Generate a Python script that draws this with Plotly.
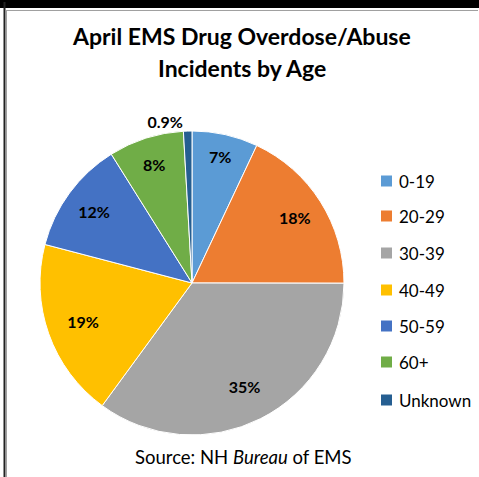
import plotly.graph_objects as go

W, H = 479, 477

categories = ["0-19", "20-29", "30-39", "40-49", "50-59", "60+", "Unknown"]
values = [7, 18, 35, 19, 12, 8, 0.9]
value_labels = ["7%", "18%", "35%", "19%", "12%", "8%", "0.9%"]
colors = ["#5B9BD5", "#ED7D31", "#A5A5A5", "#FFC000", "#4472C4", "#70AD47", "#255E91"]

title_lines = ["April EMS Drug Overdose/Abuse", "Incidents by Age"]
source_text = "Source: NH <i>Bureau</i> of EMS"

# style: hole of the transparent ring that carries each inside label (sets label distance from centre)
label_ring_holes = [0.7, 0.6, 0.53, 0.52, 0.6, 0.64, None]

FONT = "Lato, 'Open Sans', sans-serif"

def px_x(x):
    return x / W

def px_y(y):
    return 1 - y / H

pie_domain = dict(x=[px_x(40), px_x(344)], y=[px_y(435), px_y(131)])
n = len(categories)

fig = go.Figure()
# coloured slices, carrying the outside label of the tiny slice
fig.add_trace(go.Pie(
    labels=categories,
    values=values,
    text=[t if h is None else "" for t, h in zip(value_labels, label_ring_holes)],
    textinfo="text",
    textposition=["outside" if h is None else "none" for h in label_ring_holes],
    sort=False,
    direction="clockwise",
    rotation=0,
    marker=dict(colors=colors, line=dict(color="white", width=1)),
    textfont=dict(family=FONT, size=16, color="black", weight="bold"),
    domain=pie_domain,
    showlegend=False,
    hovertext=value_labels,
    hoverinfo="label+text",
))
# transparent rings carrying the inside percentage labels
for i, h in enumerate(label_ring_holes):
    if h is None:
        continue
    fig.add_trace(go.Pie(
        labels=categories,
        values=values,
        text=[t if j == i else "" for j, t in enumerate(value_labels)],
        textinfo="text",
        textposition="inside",
        insidetextorientation="horizontal",
        sort=False,
        direction="clockwise",
        rotation=0,
        hole=h,
        marker=dict(colors=["rgba(0,0,0,0)"] * n, line=dict(width=0)),
        textfont=dict(family=FONT, size=16, color="black", weight="bold"),
        domain=pie_domain,
        showlegend=False,
        hoverinfo="skip",
    ))

shapes = [
    dict(type="rect", xref="paper", yref="paper", x0=0, x1=1, y0=px_y(8), y1=1,
         fillcolor="#000000", line=dict(width=0), layer="above"),
    dict(type="line", xref="paper", yref="paper", x0=px_x(6), x1=px_x(478), y0=px_y(10.5), y1=px_y(10.5),
         line=dict(color="#A0A0A0", width=1)),
    dict(type="line", xref="paper", yref="paper", x0=px_x(4.5), x1=px_x(4.5), y0=0, y1=px_y(2),
         line=dict(color="#222222", width=2)),
    dict(type="line", xref="paper", yref="paper", x0=px_x(6.5), x1=px_x(6.5), y0=0, y1=px_y(10),
         line=dict(color="#A0A0A0", width=1)),
]

annotations = []
for line, yy in zip(title_lines, [36, 68]):
    annotations.append(dict(text="<b>" + line + "</b>", x=px_x(242), y=px_y(yy),
                            xref="paper", yref="paper", showarrow=False,
                            xanchor="center", yanchor="middle",
                            font=dict(family=FONT, size=23, color="black")))
annotations.append(dict(text=source_text, x=px_x(243), y=px_y(457), xref="paper", yref="paper",
                        showarrow=False, xanchor="center", yanchor="middle",
                        font=dict(family=FONT, size=18.5, color="black")))

row_y = [181, 216, 253, 290, 326, 362, 400]
for cat, col, yy in zip(categories, colors, row_y):
    shapes.append(dict(type="rect", xref="paper", yref="paper",
                       x0=px_x(381), x1=px_x(392), y0=px_y(yy + 5.5), y1=px_y(yy - 5.5),
                       fillcolor=col, line=dict(width=0)))
    annotations.append(dict(text=cat, x=px_x(397), y=px_y(yy), xref="paper", yref="paper",
                            showarrow=False, xanchor="left", yanchor="middle",
                            font=dict(family=FONT, size=17, color="black")))

fig.update_layout(
    width=W, height=H,
    margin=dict(l=0, r=0, t=0, b=0),
    paper_bgcolor="white",
    plot_bgcolor="white",
    shapes=shapes,
    annotations=annotations,
    font=dict(family=FONT),
)

fig.write_html("out.html",
               config={"displayModeBar": False},
               post_script="document.body.style.margin='0';document.body.style.overflow='hidden';")
